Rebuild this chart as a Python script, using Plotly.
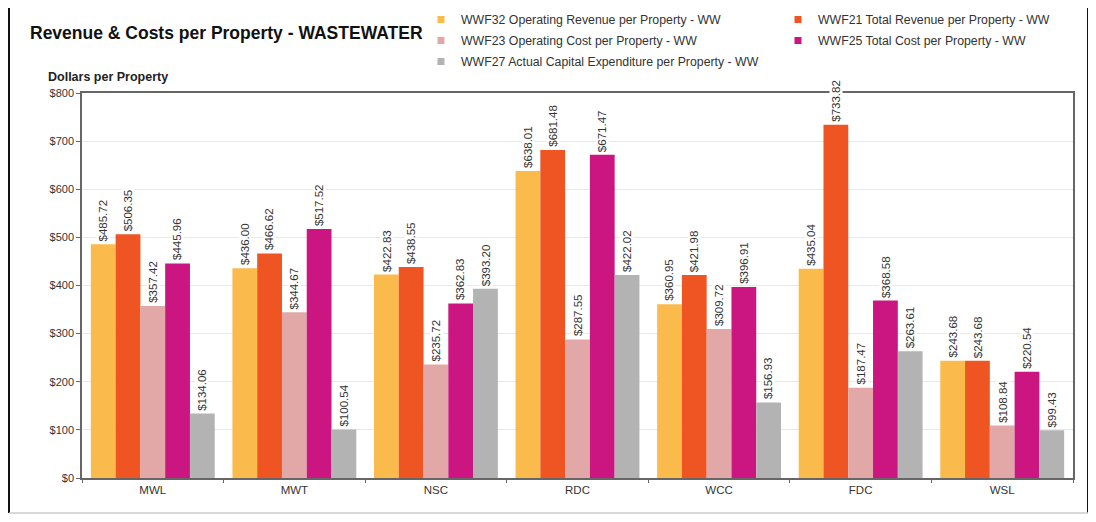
import plotly.graph_objects as go

categories = ["MWL", "MWT", "NSC", "RDC", "WCC", "FDC", "WSL"]
series_names = [
    "WWF32 Operating Revenue per Property - WW",
    "WWF21 Total Revenue per Property - WW",
    "WWF23 Operating Cost per Property - WW",
    "WWF25 Total Cost per Property - WW",
    "WWF27 Actual Capital Expenditure per Property - WW",
]
op_revenue = [485.72, 436.00, 422.83, 638.01, 360.95, 435.04, 243.68]
total_revenue = [506.35, 466.62, 438.55, 681.48, 421.98, 733.82, 243.68]
op_cost = [357.42, 344.67, 235.72, 287.55, 309.72, 187.47, 108.84]
total_cost = [445.96, 517.52, 362.83, 671.47, 396.91, 368.58, 220.54]
capex = [134.06, 100.54, 393.20, 422.02, 156.93, 263.61, 99.43]
series_values = [op_revenue, total_revenue, op_cost, total_cost, capex]
colors = ["#FBBA4C", "#EF5423", "#E2A8A8", "#CB1581", "#B3B3B3"]
y_ticks = [0, 100, 200, 300, 400, 500, 600, 700, 800]
y_tick_labels = ["$0", "$100", "$200", "$300", "$400", "$500", "$600", "$700", "$800"]

# page offset (body margin) compensation: figure is drawn from page (8, 8)
OFF = 8
W, H = 1096 - OFF, 522 - 2 * OFF
L, R, T, B = 82 - OFF, 1073 - OFF, 93 - OFF, 478 - OFF
BARGAP = 0.125
FONT = "Liberation Sans, Arial, sans-serif"

def px_x(p):
    return (p - OFF - L) / (R - L)

def px_y(p):
    return (B - (p - OFF)) / (B - T)

fig = go.Figure()
for name, vals, col in zip(series_names, series_values, colors):
    fig.add_trace(go.Bar(x=categories, y=vals, marker=dict(color=col, line=dict(width=0)),
                         showlegend=False, name=name))

# legend entries (small square markers), split in two columns
legend_of = ["legend", "legend2", "legend", "legend2", "legend"]
for i, (name, col) in enumerate(zip(series_names, colors)):
    fig.add_trace(go.Scatter(x=[None], y=[None], mode="markers", name=name,
                             marker=dict(symbol="square", size=7, color=col),
                             legend=legend_of[i], legendgroup=f"g{i}", showlegend=True))

# value labels
n = len(series_values)
group_w = 1 - BARGAP
bar_w = group_w / n
annotations = []
for j, vals in enumerate(series_values):
    off = -group_w / 2 + (j + 0.5) * bar_w
    for i, v in enumerate(vals):
        annotations.append(dict(
            x=i + off, y=v, xref="x", yref="y", text=f"${v:,.2f}",
            showarrow=False, textangle=-90, yanchor="bottom", xanchor="center",
            yshift=2, bgcolor="white", borderpad=0,
            font=dict(family=FONT, size=11.5, color="#333333"),
        ))

annotations.append(dict(
    x=px_x(46), y=px_y(77), xref="paper", yref="paper", text="<b>Dollars per Property</b>",
    showarrow=False, xanchor="left", yanchor="middle",
    font=dict(family=FONT, size=12.5, color="#222222"),
))

shapes = [
    dict(type="line", xref="paper", yref="paper", x0=px_x(9), x1=px_x(9), y0=1.3, y1=px_y(513),
         line=dict(color="#111111", width=2)),
    dict(type="line", xref="paper", yref="paper", x0=px_x(1088), x1=px_x(1088), y0=1.3, y1=px_y(513),
         line=dict(color="#111111", width=2)),
    dict(type="line", xref="paper", yref="paper", x0=px_x(9), x1=px_x(1088), y0=px_y(513), y1=px_y(513),
         line=dict(color="#CCCCCC", width=1.5)),
]

legend_font = dict(family=FONT, size=12.3, color="#333333")
fig.update_layout(
    width=W, height=H,
    margin=dict(l=L, r=W - R, t=T, b=H - B, autoexpand=False),
    paper_bgcolor="white", plot_bgcolor="white",
    barmode="group", bargap=BARGAP, bargroupgap=0,
    title=dict(text="<b>Revenue & Costs per Property - WASTEWATER</b>",
               x=(30 - OFF) / W, xref="container", xanchor="left",
               y=1 - (33 - OFF) / H, yref="container", yanchor="middle",
               font=dict(family=FONT, size=17.5, color="#111111")),
    xaxis=dict(type="category", categoryorder="array", categoryarray=categories,
               range=[-0.5, len(categories) - 0.5], autorange=False,
               showline=True, linecolor="#666666", linewidth=1.5, mirror=True,
               ticks="outside", tickson="boundaries", ticklen=3, tickcolor="#666666",
               tickfont=dict(family=FONT, size=11.5, color="#333333"),
               showgrid=False),
    yaxis=dict(range=[0, 800], autorange=False, tickmode="array", tickvals=y_ticks,
               ticktext=y_tick_labels,
               showline=True, linecolor="#666666", linewidth=1.5, mirror=True,
               ticks="outside", ticklen=4, tickcolor="#666666",
               gridcolor="#E8E8E8", gridwidth=1, zeroline=False,
               tickfont=dict(family=FONT, size=11, color="#333333")),
    legend=dict(x=px_x(421), xref="paper", xanchor="left", y=px_y(5),
                yref="paper", yanchor="top", orientation="v", tracegroupgap=2,
                font=legend_font, bgcolor="rgba(0,0,0,0)", itemclick=False),
    legend2=dict(x=px_x(778), xref="paper", xanchor="left", y=px_y(5),
                 yref="paper", yanchor="top", orientation="v", tracegroupgap=2,
                 font=legend_font, bgcolor="rgba(0,0,0,0)", itemclick=False),
    annotations=annotations,
    shapes=shapes,
)

fig.write_html("out.html")
